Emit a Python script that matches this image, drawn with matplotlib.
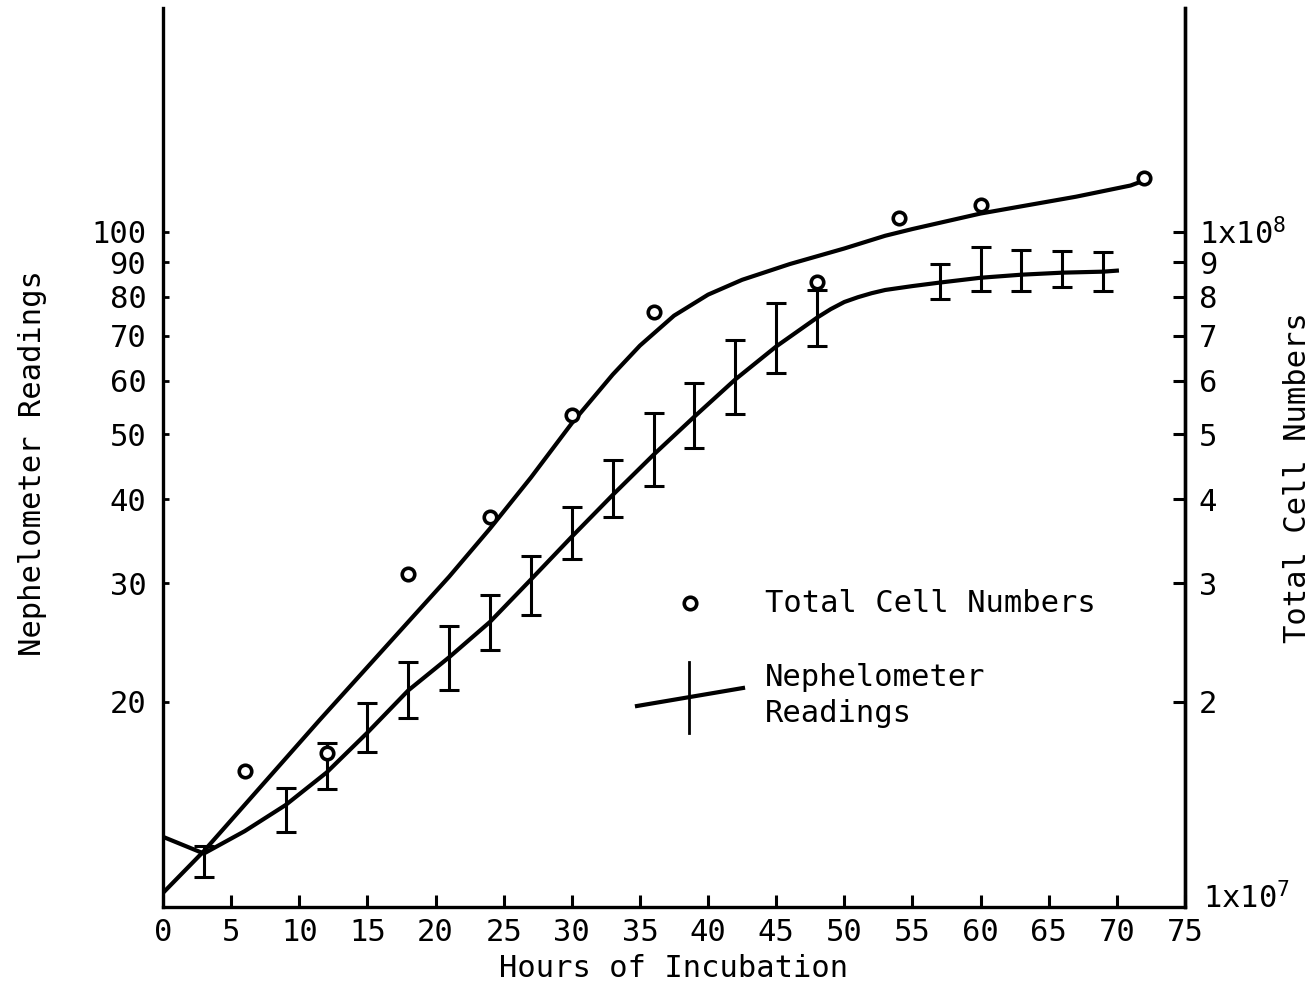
import matplotlib
matplotlib.use('Agg')
import matplotlib.pyplot as plt
from matplotlib.lines import Line2D
from matplotlib.ticker import FixedLocator, NullLocator

# total cell numbers (x10^6, read on the left scale)
cell_hours = [6, 12, 18, 24, 30, 36, 48, 54, 60, 72]
cell_counts = [15.8, 16.8, 31.0, 37.7, 53.3, 76.0, 84.3, 104.9, 109.7, 120.3]

# fitted curve through the cell counts
cell_curve_x = [0, 3, 11.5, 18, 21, 24, 27, 30, 33, 35, 37.5, 40,
                42.5, 46, 50, 53, 55, 60, 67, 71, 72]
cell_curve_y = [10.4, 12.0, 18.8, 26.3, 30.7, 36.2, 43.1, 51.9, 61.3, 67.7, 75.0, 80.6,
                84.8, 89.5, 94.4, 98.6, 100.9, 106.4, 112.7, 117.1, 119.1]

# nephelometer readings with error bars
neph_hours = [3, 9, 12, 15, 18, 21, 24, 27, 30, 33, 36, 39, 42, 45, 48, 57, 60, 63, 66, 69]
neph_mean = [11.9, 14.05, 15.7, 18.0, 20.8, 23.3, 26.3, 30.4, 35.2, 40.6, 46.6, 53.1,
             60.3, 67.5, 74.5, 84.0, 85.4, 86.3, 86.9, 87.2]
neph_low = [11.0, 12.8, 14.85, 16.85, 18.9, 20.8, 23.9, 26.9, 32.6, 37.7, 41.8, 47.7,
            53.6, 61.7, 67.7, 79.5, 81.7, 81.7, 82.6, 81.7]
neph_high = [12.2, 14.9, 17.4, 19.9, 22.9, 25.9, 28.8, 32.9, 38.9, 45.8, 53.8, 59.6,
             68.9, 78.4, 82.0, 89.6, 95.0, 94.0, 93.7, 93.4]

# smooth nephelometer curve
neph_curve_x = [0, 3, 6, 9, 12, 15, 18, 21, 24, 27, 30, 33, 36, 39, 42, 45, 48,
                49, 50, 51, 52, 53, 55, 57, 60, 63, 66, 69, 70]
neph_curve_y = [12.6, 11.9, 12.85, 14.05, 15.7, 18.0, 20.8, 23.3, 26.3, 30.4, 35.2, 40.6,
                46.6, 53.1, 60.3, 67.5, 74.5, 76.7, 78.6, 79.9, 81.0, 81.9, 83.0, 84.0,
                85.4, 86.3, 86.9, 87.2, 87.5]

x_ticks = list(range(0, 80, 5))
y_ticks = [20, 30, 40, 50, 60, 70, 80, 90, 100]
left_labels = ['20', '30', '40', '50', '60', '70', '80', '90', '100']
right_labels = ['2', '3', '4', '5', '6', '7', '8', '9', '1x10$^8$']

plt.rcParams['font.family'] = ['DejaVu Sans Mono']
plt.rcParams['mathtext.fontset'] = 'custom'
plt.rcParams['mathtext.rm'] = 'DejaVu Sans Mono'
plt.rcParams['mathtext.default'] = 'rm'
fs = 22

fig = plt.figure(figsize=(13.16, 9.85), dpi=100)
ax = fig.add_axes([163 / 1316, 1 - 907 / 985, 1022 / 1316, 899 / 985])
ax.set_yscale('log')
ax.set_xlim(0, 75)
ax.set_ylim(9.91, 215)

ax.plot(cell_curve_x, cell_curve_y, color='black', lw=3)
ax.plot(neph_curve_x, neph_curve_y, color='black', lw=3)
yerr = [[m - l for m, l in zip(neph_mean, neph_low)],
        [h - m for m, h in zip(neph_mean, neph_high)]]
ax.errorbar(neph_hours, neph_mean, yerr=yerr, fmt='none', ecolor='black',
            elinewidth=2.2, capsize=7, capthick=2.2)
ax.plot(cell_hours, cell_counts, 'o', ms=9, mfc='white', mec='black', mew=2.6, zorder=5)

for s in ['left', 'right', 'bottom']:
    ax.spines[s].set_linewidth(2.4)
ax.spines['top'].set_visible(False)

ax.xaxis.set_major_locator(FixedLocator(x_ticks))
ax.set_xticklabels([str(t) for t in x_ticks], fontsize=fs)
ax.tick_params(axis='x', direction='in', length=9, width=2.2, pad=8)
ax.yaxis.set_major_locator(FixedLocator(y_ticks))
ax.yaxis.set_minor_locator(NullLocator())
ax.set_yticklabels(left_labels, fontsize=fs)
ax.tick_params(axis='y', direction='in', length=4, width=2, pad=12)

ax2 = ax.twinx()
ax2.set_yscale('log')
ax2.set_ylim(ax.get_ylim())
ax2.yaxis.set_major_locator(FixedLocator(y_ticks))
ax2.yaxis.set_minor_locator(NullLocator())
ax2.set_yticklabels(right_labels, fontsize=fs)
ax2.tick_params(axis='y', direction='in', length=9, width=2.2, pad=10)
ax2.spines['top'].set_visible(False)
ax2.spines['right'].set_linewidth(2.4)

ax.set_xlabel('Hours of Incubation', fontsize=fs, labelpad=5)
fig.text(33 / 1316, 1 - 463 / 985, 'Nephelometer Readings', rotation=90,
         ha='center', va='center', fontsize=fs)
fig.text(1298 / 1316, 1 - 478 / 985, 'Total Cell Numbers', rotation=90,
         ha='center', va='center', fontsize=fs)
fig.text(1203 / 1316, 1 - 898 / 985, '1x10$^7$', ha='left', va='center', fontsize=fs)

# hand-drawn key
tr = fig.transFigure
fig.add_artist(Line2D([690 / 1316], [1 - 603 / 985], transform=tr, marker='o', ms=9,
                      mfc='white', mec='black', mew=2.6))
fig.text(765 / 1316, 1 - 603 / 985, 'Total Cell Numbers', ha='left', va='center', fontsize=fs)
fig.add_artist(Line2D([637 / 1316, 743 / 1316], [1 - 706 / 985, 1 - 688 / 985],
                      transform=tr, color='black', lw=3))
fig.add_artist(Line2D([689 / 1316, 689 / 1316], [1 - 662 / 985, 1 - 733 / 985],
                      transform=tr, color='black', lw=2))
fig.text(765 / 1316, 1 - 677 / 985, 'Nephelometer', ha='left', va='center', fontsize=fs)
fig.text(765 / 1316, 1 - 714 / 985, 'Readings', ha='left', va='center', fontsize=fs)

fig.savefig('out.png', dpi=100)
